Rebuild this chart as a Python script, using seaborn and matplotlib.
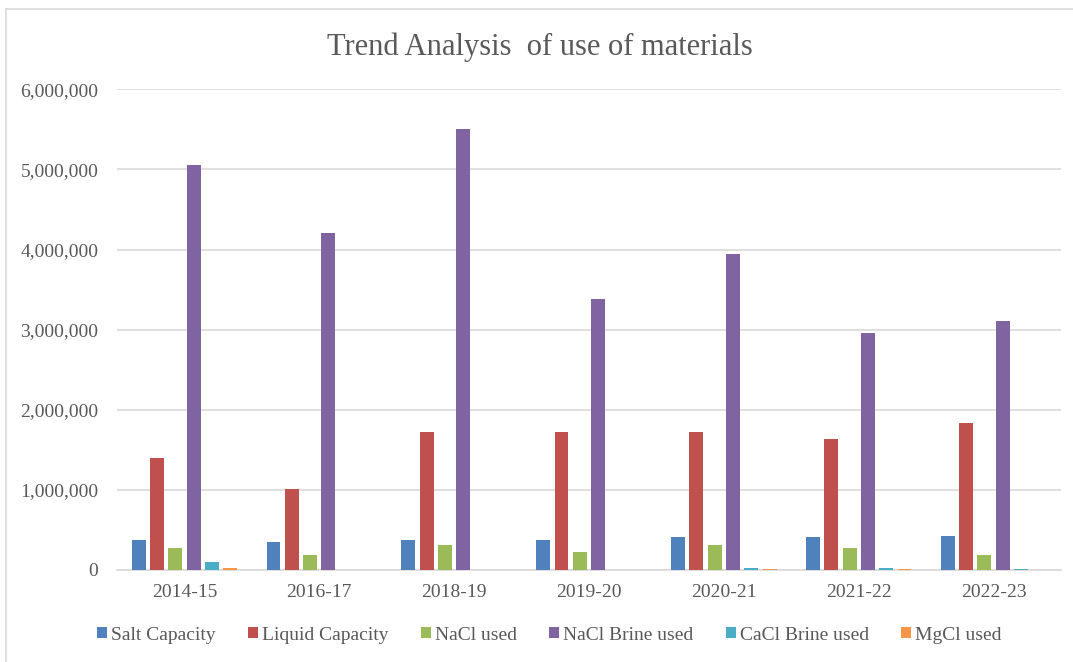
import matplotlib
matplotlib.use("Agg")
import matplotlib.pyplot as plt
from matplotlib.ticker import FuncFormatter, MultipleLocator
from matplotlib.lines import Line2D
import seaborn as sns
import pandas as pd

# Material quantities per season
years = ["2014-15", "2016-17", "2018-19", "2019-20", "2020-21", "2021-22", "2022-23"]
series_names = ["Salt Capacity", "Liquid Capacity", "NaCl used",
                "NaCl Brine used", "CaCl Brine used", "MgCl used"]

salt_capacity   = [380000, 355000, 380000, 380000, 408000, 408000, 420000]
liquid_capacity = [1400000, 1010000, 1720000, 1720000, 1720000, 1640000, 1830000]
nacl_used       = [275000, 183000, 316000, 220000, 316000, 275000, 183000]
nacl_brine_used = [5050000, 4210000, 5510000, 3380000, 3940000, 2960000, 3110000]
cacl_brine_used = [100000, 0, 0, 0, 29000, 29000, 16000]
mgcl_used       = [30000, 0, 0, 0, 16000, 16000, 0]

colors = ["#4F81BD", "#C0504D", "#9BBB59", "#8064A2", "#4BACC6", "#F79646"]

values = [salt_capacity, liquid_capacity, nacl_used,
          nacl_brine_used, cacl_brine_used, mgcl_used]
df = pd.DataFrame(
    [(y, name, v) for name, vals in zip(series_names, values) for y, v in zip(years, vals)],
    columns=["Year", "Series", "Value"],
)

sns.set_theme(style="white")
plt.rcParams["font.family"] = ["Liberation Serif", "DejaVu Serif"]
text_color = "#595959"
grid_color = "#D9D9D9"

fig = plt.figure(figsize=(10.73, 6.62), dpi=100)
ax = fig.add_axes([117 / 1073, 1 - 570 / 662, (1061 - 117) / 1073, (570 - 89.3) / 662])

sns.barplot(data=df, x="Year", y="Value", hue="Series", hue_order=series_names,
            order=years, palette=colors, width=0.815, gap=0.24, saturation=1,
            errorbar=None, ax=ax, legend=False, linewidth=0, edgecolor="none", zorder=3)

ax.set_ylim(0, 6000000)
ax.set_xlim(-0.5, len(years) - 0.5)
ax.yaxis.set_major_locator(MultipleLocator(1000000))
ax.yaxis.set_major_formatter(FuncFormatter(lambda v, _: f"{v:,.0f}"))
ax.grid(axis="y", color=grid_color, linewidth=1.2, zorder=0)
ax.set_axisbelow(True)
for side in ["left", "right", "top"]:
    ax.spines[side].set_visible(False)
ax.spines["bottom"].set_color(grid_color)
ax.spines["bottom"].set_linewidth(1.2)
ax.tick_params(axis="both", length=0, labelsize=14, labelcolor=text_color)
ax.tick_params(axis="y", pad=13.5)
ax.tick_params(axis="x", pad=10)
ax.set_xlabel("")
ax.set_ylabel("")

fig.text(539.5 / 1073, 1 - 55 / 662, "Trend Analysis  of use of materials",
         ha="center", va="baseline", fontsize=22, color=text_color)

handles = [plt.Rectangle((0, 0), 1, 1, facecolor=c, edgecolor="none") for c in colors]
leg = fig.legend(handles, series_names, loc="center", bbox_to_anchor=(549.5 / 1073, 1 - 635 / 662),
                 ncol=6, frameon=False, fontsize=14, handlelength=0.5, handleheight=0.5,
                 handletextpad=0.2, columnspacing=1.68, borderpad=0)
for t in leg.get_texts():
    t.set_color(text_color)

# Chart area frame (left and top edges)
fig.add_artist(Line2D([6 / 1073, 6 / 1073], [0, 1 - 9 / 662], transform=fig.transFigure,
                      color=grid_color, linewidth=1.2))
fig.add_artist(Line2D([6 / 1073, 1], [1 - 9 / 662, 1 - 9 / 662], transform=fig.transFigure,
                      color=grid_color, linewidth=1.2))

fig.savefig("out.png", dpi=100, facecolor="white")
